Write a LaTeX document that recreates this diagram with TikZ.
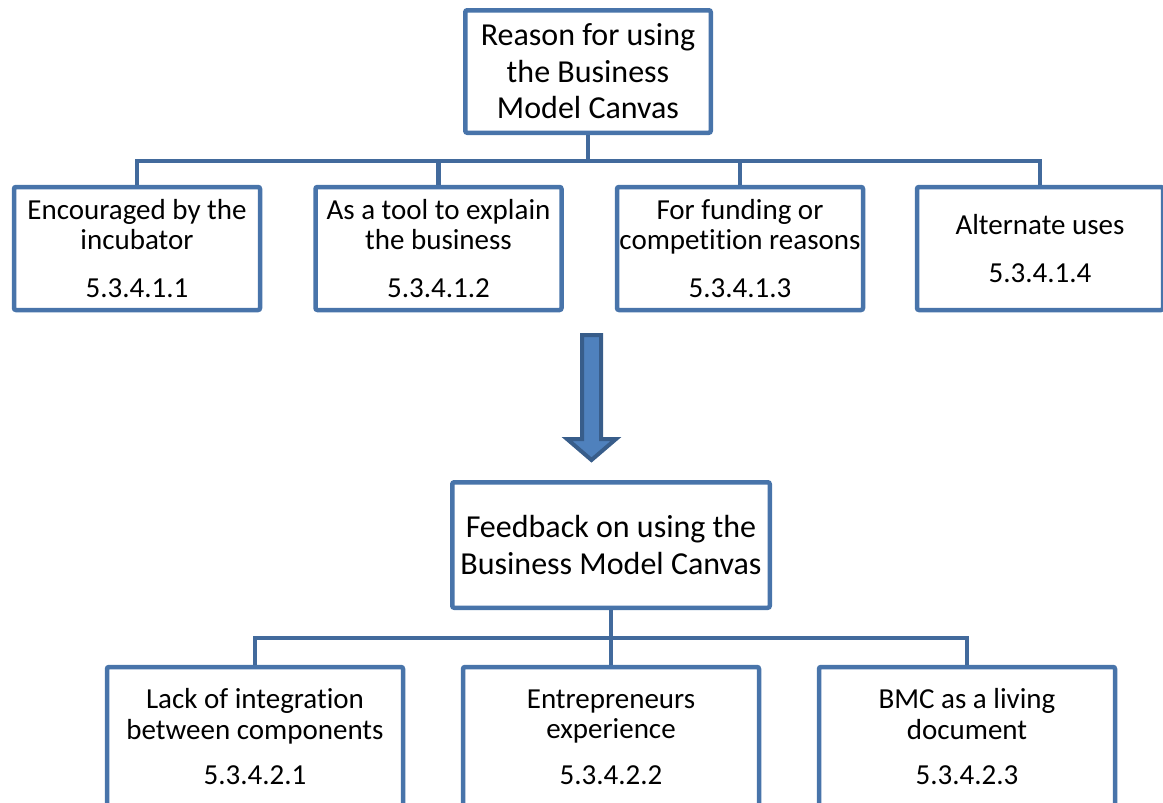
\documentclass[tikz,border=0pt]{standalone}
\usepackage{fontspec}
\setmainfont{Carlito}[Ligatures=NoCommon]
\definecolor{boxline}{RGB}{72,116,170}
\definecolor{busline}{RGB}{66,106,156}
\definecolor{arrowfill}{RGB}{79,129,189}
\definecolor{arrowline}{RGB}{56,93,138}
\tikzset{
  card/.style={draw=boxline, line width=4.5pt, rounded corners=2pt, fill=white,
    align=center, inner sep=0pt, text=black},
  headcard/.style={card, font=\fontsize{32}{36.5}\selectfont},
  leafcard/.style={card, font=\fontsize{29}{30.5}\selectfont,
    minimum width=246pt},
  bus/.style={draw=busline, line width=4.5pt},
}
\begin{document}
\begin{tikzpicture}[x=1pt,y=-1pt]
\useasboundingbox (0,0) rectangle (1163,803);
\clip (0,0) rectangle (1163,803);

% upper tree: reasons
\node[headcard, minimum width=245.5pt, minimum height=122.5pt] (reason) at (588,71.5)
  {Reason for using\\the Business\\Model Canvas};
\node[leafcard, minimum height=123pt] (r1) at (137,248.5)
  {Encouraged by the\\incubator\\[17pt]5.3.4.1.1};
\node[leafcard, minimum height=123pt] (r2) at (438.5,248.5)
  {As a tool to explain\\the business\\[17pt]5.3.4.1.2};
\node[leafcard, minimum height=123pt] (r3) at (740,248.5)
  {For funding or\\competition reasons\\[17pt]5.3.4.1.3};
\node[leafcard, minimum height=123pt] (r4) at (1040,248.5)
  {Alternate uses\\[17pt]5.3.4.1.4};

\coordinate (busA) at (588,161);
\draw[bus] (reason.south) -- (busA);
\draw[bus] (r1.north) -- (r1.north |- busA) -- (r4.north |- busA) -- (r4.north);
\draw[bus] (r2.north) -- (r2.north |- busA);
\draw[bus] (r3.north) -- (r3.north |- busA);

% block arrow between the two trees
\draw[fill=arrowfill, draw=arrowline, line width=4pt, line join=miter]
  (582,335) -- (601,335) -- (601,439) -- (616,439) -- (591.5,460)
  -- (567,439) -- (582,439) -- cycle;

% lower tree: feedback
\node[headcard, minimum width=317.5pt, minimum height=125.5pt] (feedback) at (611,545)
  {Feedback on using the\\Business Model Canvas};
\node[leafcard, minimum width=296pt, minimum height=140pt] (f1) at (255,737)
  {Lack of integration\\between components\\[15pt]5.3.4.2.1};
\node[leafcard, minimum width=296pt, minimum height=140pt] (f2) at (611,737)
  {Entrepreneurs\\experience\\[15pt]5.3.4.2.2};
\node[leafcard, minimum width=296pt, minimum height=140pt] (f3) at (967,737)
  {BMC as a living\\document\\[15pt]5.3.4.2.3};

\coordinate (busB) at (611,638);
\draw[bus] (feedback.south) -- (busB);
\draw[bus] (f1.north) -- (f1.north |- busB) -- (f3.north |- busB) -- (f3.north);
\draw[bus] (f2.north) -- (f2.north |- busB);
\end{tikzpicture}
\end{document}
